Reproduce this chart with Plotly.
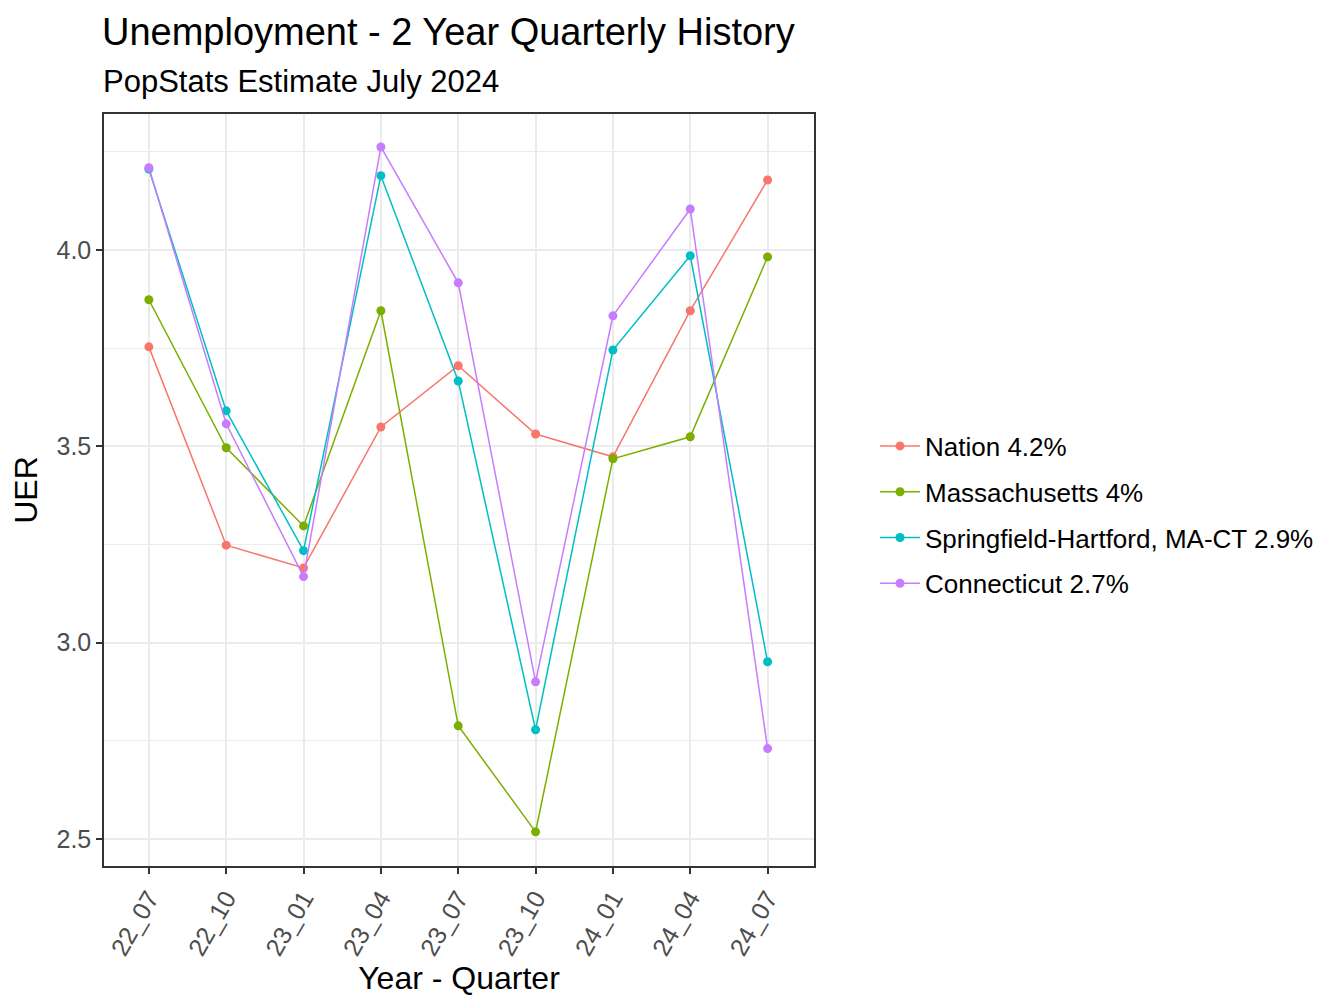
import plotly.graph_objects as go

# quarters on the x axis
quarters = ['22_07', '22_10', '23_01', '23_04', '23_07', '23_10', '24_01', '24_04', '24_07']

# unemployment rate series
nation = [3.753, 3.248, 3.19, 3.549, 3.705, 3.531, 3.473, 3.845, 4.178]
massachusetts = [3.873, 3.496, 3.297, 3.845, 2.788, 2.518, 3.468, 3.524, 3.982]
springfield = [4.206, 3.59, 3.234, 4.189, 3.666, 2.778, 3.745, 3.985, 2.951]
connecticut = [4.209, 3.557, 3.168, 4.262, 3.916, 2.9, 3.832, 4.104, 2.73]

series_names = ['Nation 4.2%', 'Massachusetts 4%', 'Springfield-Hartford, MA-CT 2.9%', 'Connecticut 2.7%']
series_colors = ['#F8766D', '#7CAE00', '#00BFC4', '#C77CFF']

FONT = 'Liberation Sans, Arial, sans-serif'

# the page body has an 8px margin, so the figure is drawn 8px smaller
W, H = 1328, 992
PL, PR, PT, PB = 96, 806, 106, 858  # plot area in figure pixels

fig = go.Figure()
for i, (name, vals, col) in enumerate(zip(series_names, [nation, massachusetts, springfield, connecticut], series_colors)):
    fig.add_trace(go.Scatter(
        x=quarters, y=vals, name=name, mode='lines+markers',
        legendgroup=str(i),  # separate groups so tracegroupgap spaces the entries
        line={'color': col, 'width': 1.5},
        marker={'color': col, 'size': 9},
    ))

fig.update_layout(
    width=W, height=H,
    paper_bgcolor='white', plot_bgcolor='white',
    margin={'l': PL, 'r': W - PR, 't': PT, 'b': H - PB},
    font={'family': FONT, 'color': 'black'},
    title={'text': 'Unemployment - 2 Year Quarterly History', 'x': (PL - 2) / W, 'xanchor': 'left',
           'y': 1 - 24 / H, 'yanchor': 'middle', 'font': {'size': 38, 'color': 'black'}},
    annotations=[{
        'text': 'PopStats Estimate July 2024', 'xref': 'paper', 'yref': 'paper',
        'x': 0, 'xanchor': 'left', 'xshift': -3, 'y': 1 + (PT - 74) / (PB - PT), 'yanchor': 'middle',
        'showarrow': False, 'font': {'size': 31, 'color': 'black'},
    }],
    legend={'x': (867 - PL) / (PR - PL), 'xanchor': 'left', 'y': (PB - 507) / (PB - PT), 'yanchor': 'middle',
            'font': {'size': 26, 'color': 'black'}, 'itemwidth': 40, 'tracegroupgap': 9,
            'bgcolor': 'rgba(0,0,0,0)'},
    showlegend=True,
)

fig.update_xaxes(
    type='category', categoryorder='array', categoryarray=quarters,
    range=[-0.58, 8.6],
    showgrid=True, gridcolor='#EBEBEB', gridwidth=2.2,
    showline=True, linecolor='#333333', linewidth=1.5, mirror=True,
    ticks='outside', ticklen=6, tickwidth=1.5, tickcolor='#333333',
    tickangle=-60, tickfont={'size': 25, 'color': '#4D4D4D'},
    title={'text': 'Year - Quarter', 'font': {'size': 32, 'color': 'black'}, 'standoff': 2},
    zeroline=False,
)
fig.update_yaxes(
    range=[2.431, 4.346],
    tickvals=[2.5, 3.0, 3.5, 4.0], ticktext=['2.5', '3.0', '3.5', '4.0'],
    showgrid=True, gridcolor='#EBEBEB', gridwidth=2.2,
    minor={'tickvals': [2.75, 3.25, 3.75, 4.25], 'showgrid': True,
           'gridcolor': '#EBEBEB', 'gridwidth': 1.1, 'ticks': ''},
    showline=True, linecolor='#333333', linewidth=1.5, mirror=True,
    ticks='outside', ticklen=6, tickwidth=1.5, tickcolor='#333333',
    tickfont={'size': 25, 'color': '#4D4D4D'},
    title={'text': 'UER', 'font': {'size': 32, 'color': 'black'}, 'standoff': 10},
    zeroline=False,
)

fig.write_html('out.html')
